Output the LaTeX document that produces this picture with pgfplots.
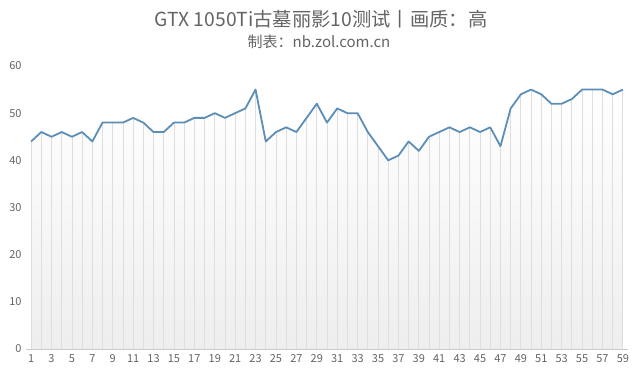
\documentclass[border=0pt]{standalone}
\usepackage{pgfplots}
\pgfplotsset{compat=1.18}
\usepackage{pgfplotstable}
\usepackage{fontspec}
\setmainfont{Noto Sans CJK SC}
\definecolor{linec}{RGB}{92,142,184}
\definecolor{txt}{RGB}{100,100,100}
\definecolor{dropc}{RGB}{222,222,222}
\definecolor{fillb}{RGB}{238,238,238}
\pgfplotstableread{
x y
1 44
2 46
3 45
4 46
5 45
6 46
7 44
8 48
9 48
10 48
11 49
12 48
13 46
14 46
15 48
16 48
17 49
18 49
19 50
20 49
21 50
22 51
23 55
24 44
25 46
26 47
27 46
28 49
29 52
30 48
31 51
32 50
33 50
34 46
35 43
36 40
37 41
38 44
39 42
40 45
41 46
42 47
43 46
44 47
45 46
46 47
47 43
48 51
49 54
50 55
51 54
52 52
53 52
54 53
55 55
56 55
57 55
58 54
59 55
}\datatable
\begin{document}
\begin{tikzpicture}[x=1pt,y=1pt]
\path[use as bounding box] (0,0) rectangle (640,377);
\node[text=txt, font=\fontsize{19.3}{21}\selectfont] at (321,358) {GTX 1050Ti古墓丽影10测试丨画质：高};
\node[text=txt, font=\fontsize{15}{17}\selectfont] at (319,335) {制表：nb.zol.com.cn};
\begin{axis}[
  at={(26pt,28pt)}, anchor=south west,
  scale only axis, width=602pt, height=283pt,
  xmin=0.5, xmax=59.5, ymin=0, ymax=60,
  axis line style={draw=none},
  major tick length=0pt,
  ytick={0,10,...,60},
  xtick={1,3,...,59},
  tick label style={font=\fontsize{11}{13}\selectfont, text=txt},
  /pgf/number format/assume math mode=true,
  xticklabel style={yshift=-2pt},
  yticklabel style={xshift=-1pt},
  clip=false,
]
\addplot[draw=none, top color=white, bottom color=fillb] table[x=x,y=y]{\datatable} \closedcycle;
\addplot[ycomb, draw=dropc, line width=0.8pt] table[x=x,y=y]{\datatable};
\addplot[draw=dropc!80!gray, line width=0.8pt] coordinates {(0.5,0) (59.5,0)};
\addplot[linec, line width=1.8pt, line join=round, mark=none] table[x=x,y=y]{\datatable};
\end{axis}
\end{tikzpicture}
\end{document}
